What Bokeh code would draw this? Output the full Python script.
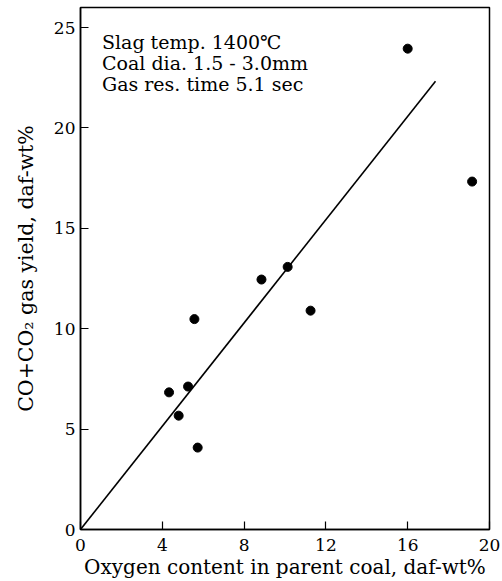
from bokeh.plotting import figure
from bokeh.models import Range1d, FixedTicker, Label
from bokeh.embed import file_html
from bokeh.resources import INLINE

# data
oxygen = [4.33, 4.80, 5.26, 5.57, 5.73, 8.85, 10.13, 11.25, 16.0, 19.15]
yield_co = [6.83, 5.67, 7.12, 10.48, 4.08, 12.45, 13.08, 10.9, 23.95, 17.33]
fit_x = [0.0, 17.36]
fit_y = [0.0, 22.33]
x_ticks = [0, 4, 8, 12, 16, 20]
y_ticks = [0, 5, 10, 15, 20, 25]
notes = ["Slag temp. 1400\u2103", "Coal dia. 1.5 - 3.0mm", "Gas res. time 5.1 sec"]

FONT = "DejaVu Serif"

p = figure(width=502, height=581, output_backend="svg", toolbar_location=None,
           x_range=Range1d(0, 20), y_range=Range1d(0, 26),
           min_border_left=80, min_border_right=13, min_border_top=7, min_border_bottom=52)
p.grid.visible = False
p.outline_line_color = "black"
p.outline_line_width = 1.5
p.background_fill_color = "white"
p.border_fill_color = "white"

for ax in (p.xaxis[0], p.yaxis[0]):
    ax.axis_line_color = "black"
    ax.axis_line_width = 1.5
    ax.major_tick_in = 8
    ax.major_tick_out = 0
    ax.minor_tick_in = 0
    ax.minor_tick_out = 0
    ax.major_tick_line_color = "black"
    ax.major_tick_line_width = 1.2
    ax.major_label_text_font = FONT
    ax.major_label_text_font_size = "17px"
    ax.major_label_text_color = "black"
    ax.axis_label_text_font = FONT
    ax.axis_label_text_font_style = "normal"
    ax.axis_label_text_color = "black"

p.xaxis.ticker = FixedTicker(ticks=x_ticks)
p.yaxis.ticker = FixedTicker(ticks=y_ticks)
p.xaxis.axis_label = "Oxygen content in parent coal, daf-wt%"
p.yaxis.axis_label = "CO+CO\u2082 gas yield, daf-wt%"
p.xaxis.axis_label_text_font_size = "20px"
p.yaxis.axis_label_text_font_size = "20.5px"
p.xaxis.major_label_standoff = 9
p.yaxis.major_label_standoff = 5
p.xaxis.axis_label_standoff = 1
p.yaxis.axis_label_standoff = 13

p.line(fit_x, fit_y, line_color="black", line_width=1.6)
p.scatter(oxygen, yield_co, size=9, fill_color="black", line_color="black")

note_x = 1.05
note_y0 = 24.3
note_step = 1.05
for i, t in enumerate(notes):
    p.add_layout(Label(x=note_x, y=note_y0 - i * note_step, text=t,
                       text_font=FONT, text_font_size="19px", text_color="black",
                       text_baseline="alphabetic"))

open("out.html", "w").write(file_html(p, INLINE))
